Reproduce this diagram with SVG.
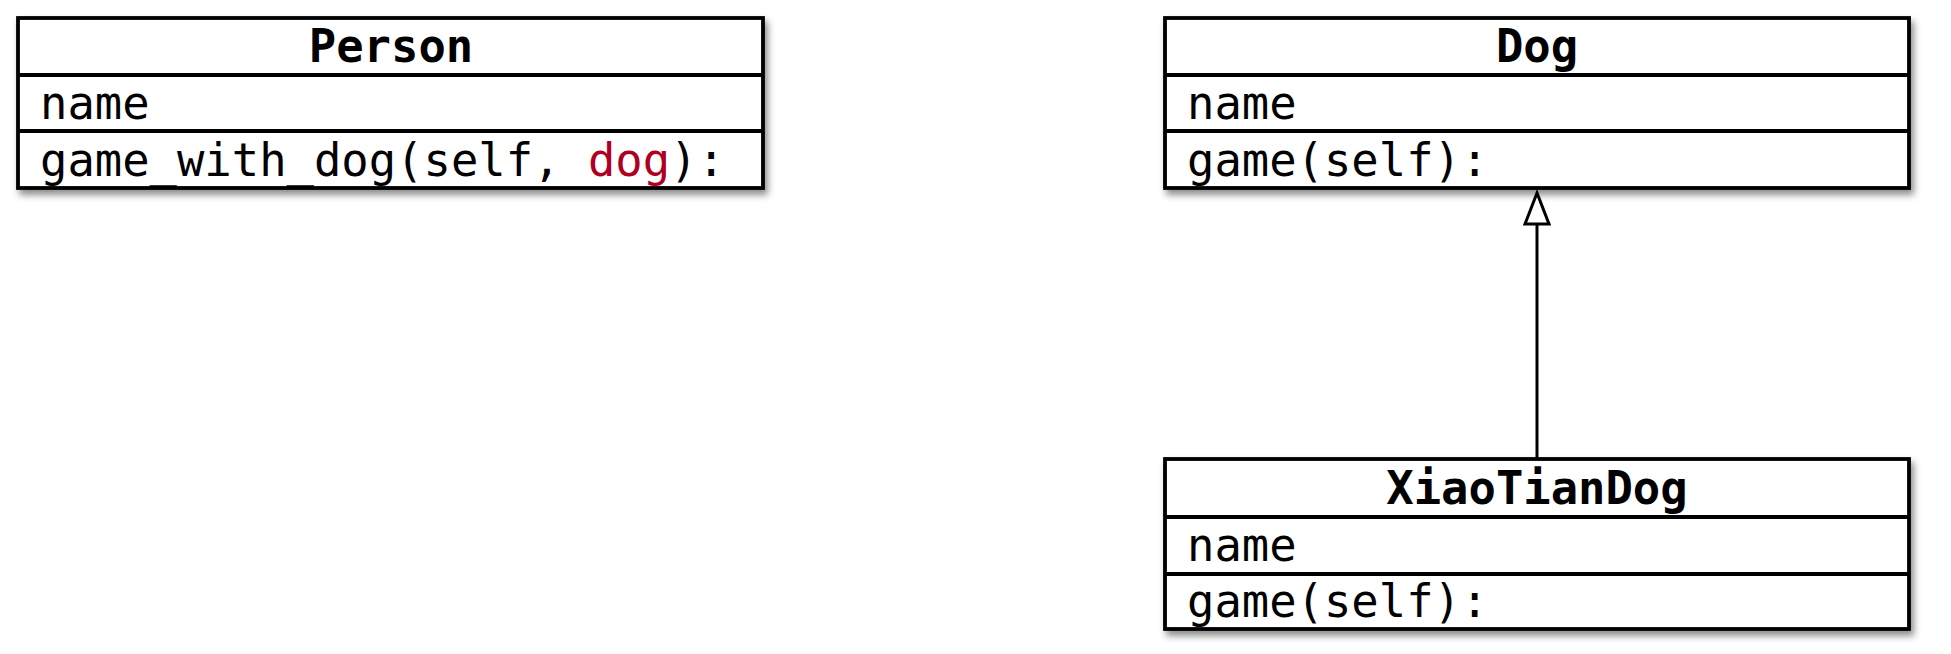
<svg xmlns="http://www.w3.org/2000/svg" width="1951" height="654" viewBox="0 0 1951 654">
<defs>
<filter id="sh" x="-5%" y="-20%" width="110%" height="140%">
<feDropShadow dx="3" dy="5" stdDeviation="3.5" flood-color="#000" flood-opacity="0.45"/>
</filter>
<style>
.box{fill:#fff;stroke:#000;stroke-width:3.8}
.sep{stroke:#000;stroke-width:3.8}
.t{font-family:"DejaVu Sans Mono",monospace;font-size:45.5px;fill:#000}
.b{font-weight:bold;text-anchor:middle}
.red{fill:#b0001f}
.conn{stroke:#000;stroke-width:3;fill:none}
.head{fill:#fff;stroke:#000;stroke-width:3;stroke-linejoin:miter}
</style>
</defs>
<g id="Person">
<rect class="box" x="18" y="18" width="745" height="170" filter="url(#sh)"/>
<line class="sep" x1="18" y1="75" x2="763" y2="75"/>
<line class="sep" x1="18" y1="131" x2="763" y2="131"/>
<text class="t b" x="391" y="62">Person</text>
<text class="t" x="40" y="119">name</text>
<text class="t" x="40" y="176">game_with_dog(self, <tspan class="red">dog</tspan>):</text>
</g>
<g id="Dog">
<rect class="box" x="1165" y="18" width="744" height="170" filter="url(#sh)"/>
<line class="sep" x1="1165" y1="75" x2="1909" y2="75"/>
<line class="sep" x1="1165" y1="131" x2="1909" y2="131"/>
<text class="t b" x="1537" y="62">Dog</text>
<text class="t" x="1187" y="119">name</text>
<text class="t" x="1187" y="176">game(self):</text>
</g>
<g id="XiaoTianDog">
<rect class="box" x="1165" y="459" width="744" height="170" filter="url(#sh)"/>
<line class="sep" x1="1165" y1="517" x2="1909" y2="517"/>
<line class="sep" x1="1165" y1="574" x2="1909" y2="574"/>
<text class="t b" x="1537" y="504">XiaoTianDog</text>
<text class="t" x="1187" y="561">name</text>
<text class="t" x="1187" y="617">game(self):</text>
</g>
<g id="connectors">
<line class="conn" x1="1537" y1="459" x2="1537" y2="224"/>
<path class="head" d="M1537,193 L1525,224 L1549,224 Z"/>
</g>
</svg>
